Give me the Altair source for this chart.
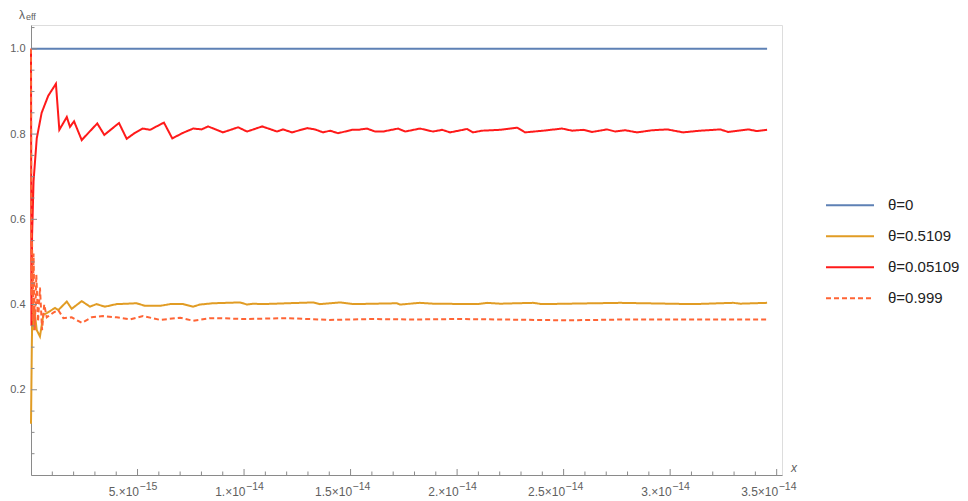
import altair as alt
import pandas as pd

# ---- data (x in units of 1e-15) ----
series_names = ["θ=0", "θ=0.5109", "θ=0.05109", "θ=0.999"]
series_colors = ["#5E81B5", "#E19C24", "#FF1A1A", "#FF6435"]
series_dash = [[1, 0], [1, 0], [1, 0], [5, 3]]

blue_x = [0.0, 34.55]
blue_y = [1.0, 1.0]

red_x = [0.0, 0.02, 0.05, 0.12, 0.27, 0.50, 0.81, 1.17, 1.33, 1.68, 1.83, 2.02, 2.38,
         3.11, 3.44, 4.13, 4.49, 4.88, 5.24, 5.59, 6.24, 6.63, 7.14, 7.61, 8.01, 8.31,
         9.01, 9.72, 10.14, 10.85, 11.55, 11.83, 12.25, 12.96, 13.33, 13.71, 14.04,
         14.41, 15.07, 15.35, 15.77, 16.15, 16.53, 17.23, 17.56, 18.26, 18.87, 19.30,
         19.67, 20.47, 20.75, 21.17, 22.02, 22.82, 23.19, 24.04, 24.93, 25.40, 25.92,
         26.34, 27.04, 27.42, 27.89, 28.45, 29.15, 29.86, 30.61, 31.41, 32.35, 32.72,
         33.66, 34.08, 34.55]
red_y = [1.0, 0.35, 0.56, 0.69, 0.79, 0.85, 0.89, 0.918, 0.81, 0.84, 0.817, 0.83, 0.786,
         0.825, 0.798, 0.826, 0.789, 0.803, 0.813, 0.81, 0.827, 0.79, 0.803, 0.813, 0.811,
         0.818, 0.804, 0.816, 0.806, 0.818, 0.806, 0.811, 0.804, 0.814, 0.811, 0.804,
         0.808, 0.802, 0.81, 0.81, 0.813, 0.806, 0.806, 0.813, 0.806, 0.813, 0.806, 0.81,
         0.804, 0.812, 0.804, 0.808, 0.81, 0.815, 0.804, 0.808, 0.813, 0.808, 0.81,
         0.805, 0.811, 0.806, 0.809, 0.804, 0.809, 0.811, 0.804, 0.808, 0.811, 0.805,
         0.811, 0.807, 0.81]

orange_x = [0.0, 0.04, 0.07, 0.10, 0.15, 0.27, 0.42, 0.58, 0.74, 1.13, 1.28, 1.68, 1.91,
            2.38, 2.77, 3.07, 3.47, 4.02, 4.96, 5.35, 6.06, 6.53, 7.14, 7.61, 7.93, 8.54,
            9.81, 10.14, 10.42, 10.85, 12.02, 13.24, 13.57, 14.51, 15.12, 17.18, 17.32,
            18.26, 18.87, 20.94, 21.41, 22.02, 23.57, 23.99, 27.65, 31.08, 32.96, 33.29,
            34.55]
orange_y = [0.12, 0.31, 0.40, 0.34, 0.39, 0.34, 0.325, 0.376, 0.38, 0.392, 0.387, 0.407,
            0.39, 0.408, 0.395, 0.401, 0.395, 0.401, 0.403, 0.397, 0.397, 0.401, 0.401,
            0.395, 0.40, 0.403, 0.405, 0.400, 0.402, 0.401, 0.403, 0.405, 0.401, 0.405,
            0.401, 0.403, 0.400, 0.404, 0.402, 0.401, 0.404, 0.402, 0.404, 0.401, 0.404,
            0.401, 0.404, 0.402, 0.404]

dash_x = [0.0, 0.02, 0.05, 0.08, 0.12, 0.18, 0.25, 0.33, 0.42, 0.52, 0.62, 0.74, 1.05,
          1.28, 1.52, 1.91, 2.38, 2.85, 3.38, 4.02, 4.65, 5.26, 6.06, 7.0, 7.61, 8.40,
          8.87, 10.0, 12.0, 14.0, 16.0, 18.0, 20.0, 22.0, 25.2, 28.0, 31.0, 34.55]
dash_y = [1.0, 0.42, 0.55, 0.36, 0.52, 0.34, 0.47, 0.36, 0.44, 0.34, 0.40, 0.37, 0.381,
          0.387, 0.368, 0.37, 0.357, 0.37, 0.373, 0.37, 0.365, 0.373, 0.364, 0.369,
          0.362, 0.368, 0.368, 0.366, 0.368, 0.364, 0.366, 0.365, 0.366, 0.365, 0.363,
          0.365, 0.365, 0.365]

x_major = [5, 10, 15, 20, 25, 30, 35]
x_mantissa = ["5.×10", "1.×10", "1.5×10", "2.×10", "2.5×10", "3.×10", "3.5×10"]
x_exponent = ["−15", "−14", "−14", "−14", "−14", "−14", "−14"]
x_minor = [1, 2, 3, 4, 6, 7, 8, 9, 11, 12, 13, 14, 16, 17, 18, 19, 21, 22, 23, 24,
           26, 27, 28, 29, 31, 32, 33, 34]
y_major = [0.2, 0.4, 0.6, 0.8, 1.0]
y_minor = [0.05, 0.1, 0.15, 0.25, 0.3, 0.35, 0.45, 0.5, 0.55, 0.65, 0.7, 0.75,
           0.85, 0.9, 0.95, 1.05]

# ---- build table ----
rows = []
for name, xs, ys in [(series_names[0], blue_x, blue_y),
                     (series_names[1], orange_x, orange_y),
                     (series_names[2], red_x, red_y),
                     (series_names[3], dash_x, dash_y)]:
    for i, (xv, yv) in enumerate(zip(xs, ys)):
        rows.append({"series": name, "x": xv, "y": yv, "order": i})
df = pd.DataFrame(rows)

W, H = 751, 450
XMAX, YMAX = 35.25, 1.056
AXIS_GRAY = "#8a8a8a"
LABEL_GRAY = "#606060"
FONT = "Liberation Sans"

xscale = alt.Scale(domain=[0, XMAX], nice=False, zero=False)
yscale = alt.Scale(domain=[0, YMAX], nice=False, zero=False)

mant_arr = "[" + ",".join("'" + s + "'" for s in [""] + x_mantissa) + "]"

lines = alt.Chart(df).mark_line(strokeWidth=2).encode(
    x=alt.X("x:Q", scale=xscale,
            axis=alt.Axis(values=x_major, ticks=False, tickSize=0, grid=False,
                          labelExpr=mant_arr + "[round(datum.value/5)]",
                          labelAlign="right", labelBaseline="alphabetic",
                          labelOffset=1, labelPadding=20,
                          labelFontSize=12, labelColor=LABEL_GRAY,
                          labelFont=FONT, domainColor=AXIS_GRAY, domainWidth=1,
                          title=None)),
    y=alt.Y("y:Q", scale=yscale,
            axis=alt.Axis(values=y_major, ticks=False, tickSize=0, grid=False,
                          format=".1f", labelPadding=6, labelFontSize=11,
                          labelColor=LABEL_GRAY, labelFont=FONT,
                          domainColor=AXIS_GRAY, domainWidth=1, title=None)),
    color=alt.Color("series:N", sort=series_names,
                    scale=alt.Scale(domain=series_names, range=series_colors),
                    legend=alt.Legend(title=None, orient="none", legendX=794,
                                      legendY=165, symbolType="stroke",
                                      symbolSize=2304, symbolStrokeWidth=2,
                                      labelFontSize=15, labelFont=FONT,
                                      labelColor="#222222", labelOffset=13,
                                      clipHeight=30.7, rowPadding=0)),
    strokeDash=alt.StrokeDash("series:N", sort=series_names,
                              scale=alt.Scale(domain=series_names, range=series_dash),
                              legend=alt.Legend(title=None, orient="none")),
    order="order:Q",
)

xmaj_df = pd.DataFrame({"v": x_major, "exp": x_exponent})
xmin_df = pd.DataFrame({"v": x_minor})
ymaj_df = pd.DataFrame({"v": y_major})
ymin_df = pd.DataFrame({"v": y_minor})

xt_major = alt.Chart(xmaj_df).mark_rule(color=AXIS_GRAY, strokeWidth=1).encode(
    x=alt.X("v:Q", scale=xscale), y=alt.value(H), y2=alt.value(H - 6))
xt_minor = alt.Chart(xmin_df).mark_rule(color=AXIS_GRAY, strokeWidth=1).encode(
    x=alt.X("v:Q", scale=xscale), y=alt.value(H), y2=alt.value(H - 3.5))
yt_major = alt.Chart(ymaj_df).mark_rule(color=AXIS_GRAY, strokeWidth=1).encode(
    y=alt.Y("v:Q", scale=yscale), x=alt.value(0), x2=alt.value(6))
yt_minor = alt.Chart(ymin_df).mark_rule(color=AXIS_GRAY, strokeWidth=1).encode(
    y=alt.Y("v:Q", scale=yscale), x=alt.value(0), x2=alt.value(3.5))

x_exp = alt.Chart(xmaj_df).mark_text(
    align="left", baseline="alphabetic", fontSize=10.5, font=FONT, color=LABEL_GRAY,
    dx=2
).encode(x=alt.X("v:Q", scale=xscale), y=alt.value(H + 15), text="exp:N")

lam = alt.Chart(pd.DataFrame({"t": ["λ"]})).mark_text(
    align="left", baseline="alphabetic", fontSize=12, font=FONT, color=LABEL_GRAY
).encode(text="t:N", x=alt.value(-12), y=alt.value(-6))
eff = alt.Chart(pd.DataFrame({"t": ["eff"]})).mark_text(
    align="left", baseline="alphabetic", fontSize=9, font=FONT, color=LABEL_GRAY
).encode(text="t:N", x=alt.value(-5), y=alt.value(-5))
xlab = alt.Chart(pd.DataFrame({"t": ["x"]})).mark_text(
    align="left", baseline="middle", fontSize=12, font=FONT, fontStyle="italic",
    color=LABEL_GRAY
).encode(text="t:N", x=alt.value(760), y=alt.value(H - 7))

chart = alt.layer(lines, xt_minor, xt_major, yt_minor, yt_major, x_exp, lam, eff,
                  xlab).properties(
    width=W, height=H,
    autosize=alt.AutoSizeParams(type="none"),
    padding={"left": 23, "top": 17, "right": 178, "bottom": 26},
).configure_view(stroke=None).configure(background="white")

chart.save("out.html", embed_options={"renderer": "svg", "actions": False})
